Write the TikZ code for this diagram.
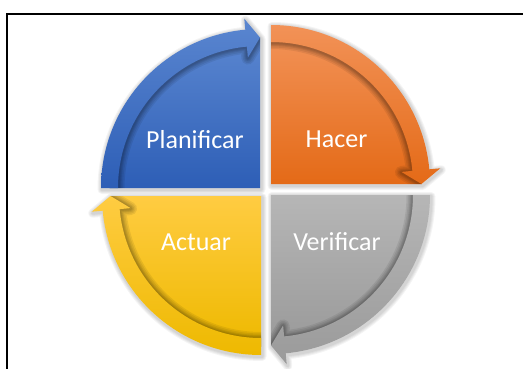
\documentclass[tikz,border=0pt]{standalone}
\usepackage{fontspec}
\setmainfont{Carlito}
\definecolor{bluetop}{HTML}{5A86D0}
\definecolor{bluebot}{HTML}{2D5EB6}
\definecolor{orgtop}{HTML}{F29257}
\definecolor{orgbot}{HTML}{E46A17}
\definecolor{gratop}{HTML}{B6B6B6}
\definecolor{grabot}{HTML}{9A9A9A}
\definecolor{yeltop}{HTML}{FFCC42}
\definecolor{yelbot}{HTML}{EEB900}
\def\Ro{159}
\def\ri{142}
\def\mr{150.5}
\def\hout{170}
\def\hin{131}
% quadrant outline (for the soft outer shadow)
\newcommand{\pdcaoutline}[1]{%
  (0,0) -- (#1:\Ro) arc[start angle=#1, end angle=\abase, radius=\Ro]
  -- (\abase:\hout) -- (\aend:\mr) -- cycle}
\newcommand{\pdcapie}[1]{%
  (0,0) -- (#1:\mr) arc[start angle=#1, end angle=\aend, radius=\mr] -- cycle}
\newcommand{\pdcaring}[1]{%
  (#1:\Ro) arc[start angle=#1, end angle=\abase, radius=\Ro]
  -- (\abase:\hout) -- (\aend:\mr) -- (\abase:\hin)
  -- (\abase:\ri) arc[start angle=\abase, end angle=#1, radius=\ri] -- cycle}
\newcommand{\pdcashadow}[2]{%
  \pgfmathsetmacro{\aend}{#2-90}%
  \pgfmathsetmacro{\abase}{#2-90+5.3}%
  \begin{scope}[shift={(#1)}]
    \begin{scope}[shift={(1,-1.5)}]
      \foreach \w in {9,7,5,3}{\draw[softshadow, line width=\w pt] \pdcaoutline{#2};}
    \end{scope}
  \end{scope}}
\newcommand{\pdcaquad}[4]{%
  \pgfmathsetmacro{\aend}{#2-90}%
  \pgfmathsetmacro{\abase}{#2-90+5.3}%
  \begin{scope}[shift={(#1)}]
    \path[top color=#3, bottom color=#4] \pdcapie{#2};
    \begin{scope}
      \clip \pdcapie{#2};
      \begin{scope}[shift={(0,-0.5)}]
        \foreach \w in {13,10,7,5,3}{\draw[innershadow, line width=\w pt] \pdcaring{#2};}
      \end{scope}
    \end{scope}
    \path[top color=#3, bottom color=#4] \pdcaring{#2};
  \end{scope}}
\begin{document}
\begin{tikzpicture}[x=1pt,y=1pt,
  softshadow/.style={draw=black, draw opacity=0.045, line join=round},
  innershadow/.style={draw=black, draw opacity=0.075, line join=round},
  lbl/.style={text=white,font=\fontsize{26}{30}\selectfont,anchor=base,inner sep=0pt},
  frame/.style={line width=2pt,draw=black}]
\useasboundingbox (0,0) rectangle (523,368);
\fill[white] (0,0) rectangle (523,368);
\coordinate (frBL) at (7,-3);
\coordinate (frTR) at (526,354.5);
\draw[frame] (frBL) |- (frTR);
\coordinate (cB) at (260,180);
\coordinate (cO) at (271,184);
\coordinate (cG) at (271,173);
\coordinate (cY) at (261,172);
\pdcashadow{cB}{180}
\pdcashadow{cO}{90}
\pdcashadow{cG}{0}
\pdcashadow{cY}{-90}
\pdcaquad{cB}{180}{bluetop}{bluebot}
\pdcaquad{cO}{90}{orgtop}{orgbot}
\pdcaquad{cG}{0}{gratop}{grabot}
\pdcaquad{cY}{-90}{yeltop}{yelbot}
\node[lbl] (tPlan) at (195,220) {Planificar};
\node[lbl] (tHacer) at (336.5,221) {Hacer};
\node[lbl] (tAct) at (196,118) {Actuar};
\node[lbl] (tVer) at (337,118) {Verificar};
\end{tikzpicture}
\end{document}
